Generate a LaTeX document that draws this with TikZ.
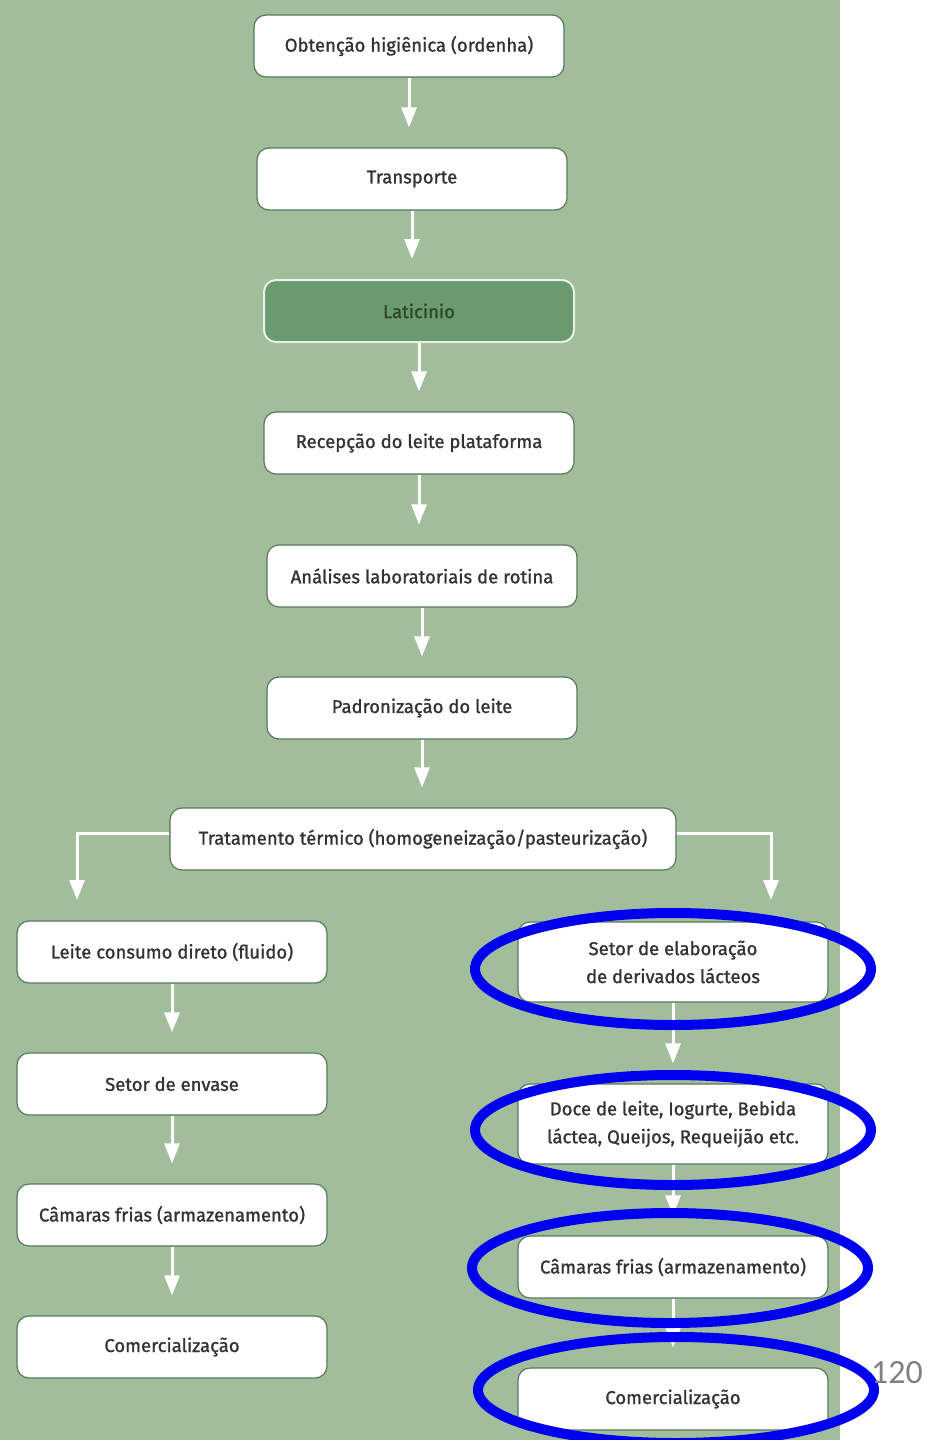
\documentclass[tikz,border=0pt]{standalone}
\usepackage{fontspec}
\setmainfont{Fira Sans}
\newfontfamily\stagefont{Fira Sans}[FakeBold=1.2]
\newfontfamily\pagenumfont{Carlito}
\usetikzlibrary{positioning}
\usetikzlibrary{calc}
\usetikzlibrary{arrows.meta}
\definecolor{panel}{HTML}{A1BD9C}
\definecolor{boxline}{HTML}{56795A}
\definecolor{darkbox}{HTML}{6B9A70}
\definecolor{lightline}{HTML}{E9F2E5}
\definecolor{label}{HTML}{333333}
\definecolor{darklabel}{HTML}{2C462E}
\definecolor{highlight}{HTML}{0000F0}

\begin{document}
\begin{tikzpicture}[x=1pt, y=-1pt]
    % Page
    \newcommand\pagewidth{927}
    \newcommand\pageheight{1440}
    \newcommand\panelwidth{840}
    \newcommand\stagewidth{310}
    \newcommand\stageheight{62}

    \useasboundingbox (0,0) rectangle (\pagewidth,\pageheight);
    \fill[panel] (0,0) rectangle (\panelwidth,\pageheight);

    \tikzset{
        stage/.style={
            draw=boxline, fill=white, line width=1.2pt,
            rounded corners=12pt,
            minimum width=\stagewidth pt,
            minimum height=\stageheight pt,
            inner sep=0pt, align=center,
            text=label, font=\stagefont\fontsize{18.5}{28}\selectfont,
        },
        dark stage/.style={
            stage, fill=darkbox, draw=lightline, line width=2pt,
            text=darklabel,
        },
        flow/.style={
            draw=white, line width=3pt,
            -{Triangle[width=15pt,length=20pt]},
            shorten >=20pt,
        },
        ring/.style={
            draw=highlight, line width=10pt,
        },
    }

    % Main line
    \node[stage] (obtencao) at (409,46) {Obtenção higiênica (ordenha)};
    \node[stage] (transporte) at (412,179) {Transporte};
    \node[dark stage] (laticinio) at (419,311) {Laticinio};
    \node[stage] (recepcao) at (419,443) {Recepção do leite plataforma};
    \node[stage] (analises) at (422,576) {Análises laboratoriais de rotina};
    \node[stage] (padronizacao) at (422,708) {Padronização do leite};
    \node[stage, minimum width=506pt] (tratamento) at (423,839)
        {Tratamento térmico (homogeneização/pasteurização)};

    \draw[flow] (obtencao.south) -- (obtencao.south |- transporte.north);
    \draw[flow] (transporte.south) -- (transporte.south |- laticinio.north);
    \draw[flow] (laticinio.south) -- (laticinio.south |- recepcao.north);
    \draw[flow] (recepcao.south) -- (recepcao.south |- analises.north);
    \draw[flow] (analises.south) -- (analises.south |- padronizacao.north);
    \draw[flow] (padronizacao.south) -- (padronizacao.south |- tratamento.north);

    % Fluid milk
    \node[stage] (leite) at (172,952) {Leite consumo direto (fluido)};
    \node[stage] (envase) at (172,1084) {Setor de envase};
    \node[stage] (camaras-l) at (172,1215) {Câmaras frias (armazenamento)};
    \node[stage] (venda-l) at (172,1347) {Comercialização};

    \coordinate (drop-l) at (77,900);
    \draw[flow, shorten >=0pt] ([yshift=6pt]tratamento.west) -| (drop-l);
    \draw[flow] (leite.south) -- (leite.south |- envase.north);
    \draw[flow] (envase.south) -- (envase.south |- camaras-l.north);
    \draw[flow] (camaras-l.south) -- (camaras-l.south |- venda-l.north);

    % Dairy products
    \node[stage, minimum height=80pt] (elaboracao) at (673,962)
        {Setor de elaboração\\de derivados lácteos};
    \node[stage, minimum height=80pt] (derivados) at (673,1124)
        {Doce de leite, Iogurte, Bebida\\láctea, Queijos, Requeijão etc.};
    \node[stage] (camaras-r) at (673,1267) {Câmaras frias (armazenamento)};
    \node[stage] (venda-r) at (673,1399) {Comercialização};

    \coordinate (drop-r) at (771,900);
    \draw[flow, shorten >=0pt] ([yshift=6pt]tratamento.east) -| (drop-r);
    \draw[flow] (elaboracao.south) -- (elaboracao.south |- derivados.north);
    \draw[flow] (derivados.south) -- (derivados.south |- camaras-r.north);
    \draw[flow] (camaras-r.south) -- (camaras-r.south |- venda-r.north);

    % Highlights
    \draw[ring] ([yshift=-7pt]elaboracao.center) ellipse [x radius=198pt, y radius=56pt];
    \draw[ring] ([yshift=-6pt]derivados.center) ellipse [x radius=198pt, y radius=55pt];
    \draw[ring] ([xshift=-3pt, yshift=-1pt]camaras-r.center) ellipse [x radius=198pt, y radius=55pt];
    \draw[ring] ([xshift=3pt, yshift=9pt]venda-r.center) ellipse [x radius=198pt, y radius=53pt];

    % Page number
    \node[text=black!50, font=\pagenumfont\fontsize{34}{34}\selectfont] (pagenum)
        at (897,1373) {120};
\end{tikzpicture}
\end{document}
